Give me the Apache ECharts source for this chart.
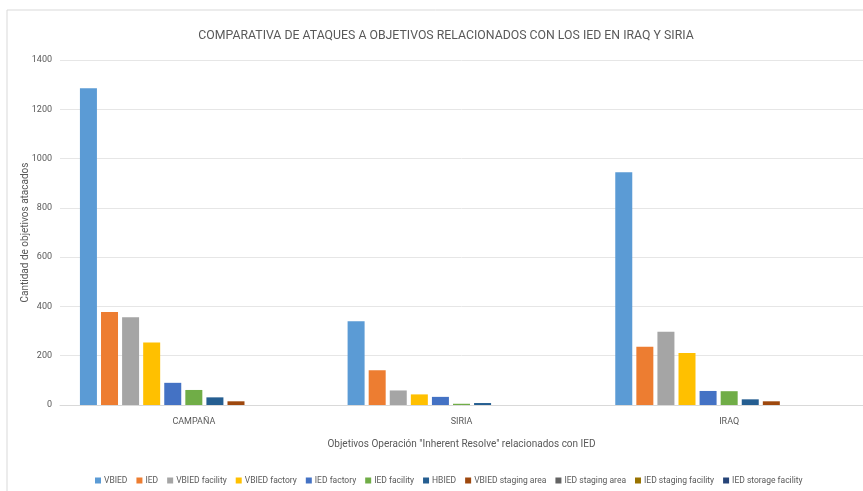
<!DOCTYPE html>
<html>
<head>
<meta charset="utf-8">
<script src="https://cdn.jsdelivr.net/npm/echarts@6/dist/echarts.min.js"></script>
<style>
  html, body { margin: 0; padding: 0; background: #fff; }
  #grafico { width: 863px; height: 491px; }
</style>
</head>
<body>
<div id="grafico"></div>
<script>
var categorias = ["CAMPAÑA", "SIRIA", "IRAQ"];
var series_nombres = ["VBIED", "IED", "VBIED facility", "VBIED factory", "IED factory", "IED facility",
    "HBIED", "VBIED staging area", "IED staging area", "IED staging facility", "IED storage facility"];
var colores = ["#5B9BD5", "#ED7D31", "#A5A5A5", "#FFC000", "#4472C4", "#70AD47",
    "#255E91", "#9E480E", "#636363", "#997300", "#264478"];

// valores por serie: [CAMPAÑA, SIRIA, IRAQ]
var vbied = [1285, 340, 945];
var ied = [377, 141, 236];
var vbied_facility = [356, 59, 297];
var vbied_factory = [254, 43, 211];
var ied_factory = [90, 33, 57];
var ied_facility = [61, 5, 56];
var hbied = [31, 8, 23];
var vbied_staging_area = [15, 0, 15];
var ied_staging_area = [0, 0, 0];
var ied_staging_facility = [0, 0, 0];
var ied_storage_facility = [0, 0, 0];

var valores = [vbied, ied, vbied_facility, vbied_factory, ied_factory, ied_facility,
    hbied, vbied_staging_area, ied_staging_area, ied_staging_facility, ied_storage_facility];

var fuente = "Roboto";

function grafico(){
    var dom = document.getElementById("grafico");
    var myChart = echarts.init(dom);
    var lista = [];
    series_nombres.forEach(function(nombre, i){
        lista.push({
            name: nombre,
            type: "bar",
            data: valores[i],
            barWidth: 17,
            barGap: "24%",
            itemStyle: { color: colores[i] }
        });
    });
    var option = {
        animation: false,
        color: colores,
        title: {
            text: "COMPARATIVA DE ATAQUES A OBJETIVOS RELACIONADOS CON LOS IED EN IRAQ Y SIRIA",
            left: 441,
            textAlign: "center",
            top: 25,
            textStyle: { fontSize: 12.3, fontWeight: "normal", color: "#595959", fontFamily: fuente }
        },
        legend: {
            data: series_nombres,
            left: 90,
            top: 471,
            itemWidth: 6,
            itemHeight: 6,
            itemGap: 9,
            icon: "rect",
            textStyle: { fontSize: 8.5, color: "#595959", fontFamily: fuente, padding: [0, 0, 0, -2] }
        },
        graphic: [{
            type: "rect",
            shape: { x: 7, y: 10, width: 880, height: 500 },
            style: { fill: "none", stroke: "#d9d9d9", lineWidth: 1 },
            silent: true
        }],
        grid: { left: 60, right: 0, top: 60, bottom: 86 },
        xAxis: {
            type: "category",
            data: categorias,
            name: "Objetivos Operación \"Inherent Resolve\" relacionados con IED",
            nameLocation: "middle",
            nameGap: 34,
            nameMoveOverlap: false,
            nameTextStyle: { fontSize: 10, color: "#595959", fontFamily: fuente },
            axisLine: { lineStyle: { color: "#d9d9d9" } },
            axisTick: { show: false },
            axisLabel: { fontSize: 9, color: "#595959", fontFamily: fuente, margin: 12 }
        },
        yAxis: {
            type: "value",
            min: 0,
            max: 1400,
            interval: 200,
            name: "Cantidad de objetivos atacados",
            nameLocation: "middle",
            nameGap: 30,
            nameMoveOverlap: false,
            nameTextStyle: { fontSize: 10, color: "#595959", fontFamily: fuente },
            axisLine: { show: false },
            axisTick: { show: false },
            axisLabel: { fontSize: 9, color: "#595959", fontFamily: fuente, margin: 8,
                formatter: function(v){ return String(v); } },
            splitLine: { lineStyle: { color: "#e6e6e6" } }
        },
        series: lista
    };
    myChart.setOption(option, true);
}

grafico();
</script>
</body>
</html>
